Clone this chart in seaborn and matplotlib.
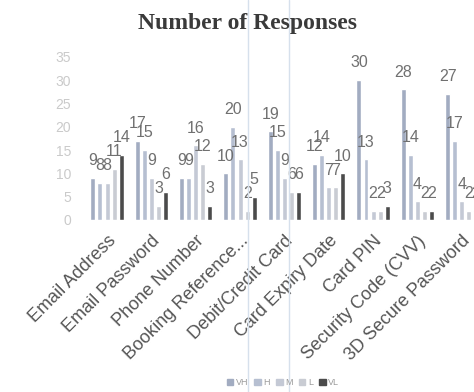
import matplotlib
matplotlib.use("Agg")
import matplotlib.pyplot as plt
from matplotlib.lines import Line2D
import pandas as pd
import seaborn as sns

categories = ["Email Address", "Email Password", "Phone Number", "Booking Reference...",
              "Debit/Credit Card", "Card Expiry Date", "Card PIN",
              "Security Code (CVV)", "3D Secure Password"]
levels = ["VH", "H", "M", "L", "VL"]
vh = [9, 17, 9, 10, 19, 12, 30, 28, 27]
h = [8, 15, 9, 20, 15, 14, 13, 14, 17]
m = [8, 9, 16, 13, 9, 7, 2, 4, 4]
l = [11, 3, 12, 2, 6, 7, 2, 2, 2]
vl = [14, 6, 3, 5, 6, 10, 3, 2, 2]
y_ticks = [0, 5, 10, 15, 20, 25, 30, 35]

colors = ["#a2acc1", "#b6bfd1", "#c4c9d5", "#c9ccd3", "#4b4b4b"]

rows = []
for lvl, vals in zip(levels, [vh, h, m, l, vl]):
    for cat, v in zip(categories, vals):
        rows.append({"Item": cat, "Level": lvl, "Responses": v})
df = pd.DataFrame(rows)

sns.set_style("white")
plt.rcParams["font.family"] = ["Liberation Sans", "DejaVu Sans"]

fig = plt.figure(figsize=(4.74, 3.92), dpi=100)
ax = fig.add_axes([0.179, 0.439, 0.842, 0.416])

sns.barplot(data=df, x="Item", y="Responses", hue="Level", order=categories,
            hue_order=levels, palette=colors, width=0.8, gap=0.3,
            saturation=1, ax=ax, legend=False)

for cont in ax.containers:
    ax.bar_label(cont, padding=7, fontsize=11.5, color="#707070")

ax.set_ylim(0, 35)
ax.set_yticks(y_ticks)
ax.tick_params(axis="y", length=0, labelsize=10, labelcolor="#cacaca", pad=10)
ax.tick_params(axis="x", length=0, pad=9)
ax.set_xticks(range(len(categories)))
ax.set_xticklabels(categories, rotation=45, ha="right", rotation_mode="anchor",
                   fontsize=13, color="#555555")
ax.set_xlabel("")
ax.set_ylabel("")
for s in ax.spines.values():
    s.set_visible(False)

fig.text(0.523, 0.94, "Number of Responses", ha="center", va="center",
         fontsize=17, fontweight="bold", family="Liberation Serif", color="#3a3a3a")

handles = [plt.Rectangle((0, 0), 1, 1, color=c) for c in colors]
fig.legend(handles, levels, loc="center", bbox_to_anchor=(0.597, 0.023), ncol=5,
           frameon=False, fontsize=6.5, handlelength=0.7, handleheight=0.7,
           handletextpad=0.3, columnspacing=0.7, labelcolor="#9a9a9a")

# thin light-blue guide lines running down the figure
for xf in (248 / 474, 289 / 474):
    fig.add_artist(Line2D([xf, xf], [0, 1], transform=fig.transFigure,
                          color="#d6e0ec", lw=1))

fig.savefig("out.png", dpi=100)
